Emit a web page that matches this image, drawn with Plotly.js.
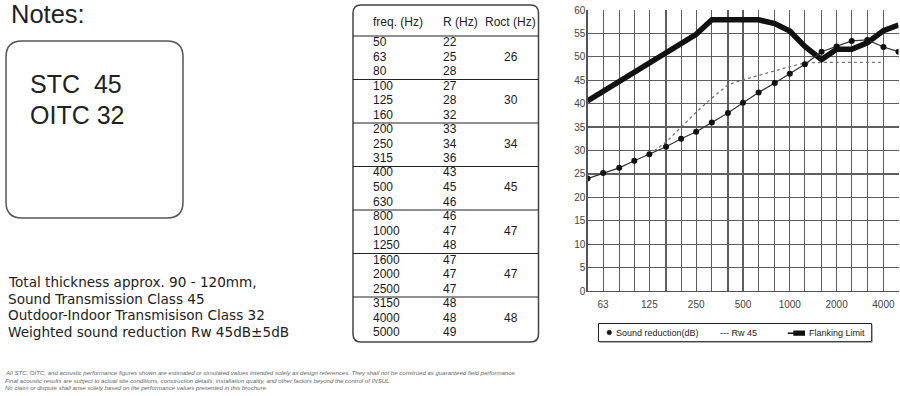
<!DOCTYPE html>
<html>
<head>
<meta charset="utf-8">
<script src="https://cdn.plot.ly/plotly-3.0.1.min.js"></script>
<style>
html,body{margin:0;padding:0;background:#fff;}
#chart{width:900px;height:396px;}
</style>
</head>
<body>
<div id="chart"></div>
<script>
// ---------- data ----------
const freqs = [50,63,80,100,125,160,200,250,315,400,500,630,800,1000,1250,1600,2000,2500,3150,4000,5000];
const soundReduction = [24.0,25.2,26.3,27.8,29.2,30.8,32.5,34.0,36.0,38.0,40.2,42.4,44.4,46.4,48.4,51.1,52.2,53.4,53.6,52.1,51.1];
const rwFreqs = [125,160,200,250,315,400,500,630,800,1000,1250,1600,2000,2500,3150,4000];
const rwValues = [29.2,31.8,35.0,38.2,41.2,44.0,45.1,46.1,47.0,47.9,48.7,48.8,48.8,48.8,48.8,48.8];
const flanking = [40.6,42.6,44.6,46.6,48.6,50.6,52.6,54.8,57.9,57.9,57.9,57.9,57.1,55.5,52.2,49.4,51.6,51.6,53.0,55.6,56.8];
const xTickLabels = ['63','125','250','500','1000','2000','4000'];
const yTicks = [0,5,10,15,20,25,30,35,40,45,50,55,60];

const tableFreq = ['50','63','80','100','125','160','200','250','315','400','500','630','800','1000','1250','1600','2000','2500','3150','4000','5000'];
const tableR = ['22','25','28','27','28','32','33','34','36','43','45','46','46','47','48','47','47','47','48','48','49'];
const tableRoct = ['26','30','34','45','47','47','48'];
const tableHeaders = ['freq. (Hz)','R (Hz)','Roct (Hz)'];

const notesTitle = 'Notes:';
const notesLines = ['STC\u00a0 45','OITC 32'];
const specLines = ['Total thickness approx. 90 - 120mm,','Sound Transmission Class 45','Outdoor-Indoor Transmisison Class 32','Weighted sound reduction Rw 45dB\u00b15dB'];
const disclaimer = [
 'All STC, OITC, and acoustic performance figures shown are estimated or simulated values intended solely as design references. They shall not be construed as guaranteed field performance.',
 'Final acoustic results are subject to actual site conditions, construction details, installation quality, and other factors beyond the control of INSUL.',
 'No claim or dispute shall arise solely based on the performance values presented in this brochure.'
];
const legendNames = ['Sound reduction(dB)','--- Rw 45','Flanking Limit'];

// ---------- helpers ----------
const W = 900, H = 396;
const px = x => x / W;
const py = y => 1 - y / H;
const FONT = 'Liberation Sans, Arial, Helvetica, sans-serif';
const WIDEFONT = 'DejaVu Sans, Verdana, sans-serif';

const annotations = [];
const shapes = [];
function txt(x, y, text, size, opts) {
  opts = opts || {};
  annotations.push(Object.assign({
    xref: 'paper', yref: 'paper', x: px(x), y: py(y), text: text,
    showarrow: false, xanchor: 'left', yanchor: 'middle',
    font: {family: FONT, size: size, color: '#1a1a1a'}, borderpad: 0
  }, opts));
}
function line(x0, y0, x1, y1, color, width) {
  shapes.push({type: 'line', xref: 'paper', yref: 'paper', x0: px(x0), y0: py(y0), x1: px(x1), y1: py(y1),
    line: {color: color, width: width}});
}
function roundRect(x0, y0, x1, y1, r, color, width) {
  const p = (x, y) => px(x) + ',' + py(y);
  const path = 'M' + p(x0 + r, y0) + ' L' + p(x1 - r, y0) + ' Q' + p(x1, y0) + ' ' + p(x1, y0 + r) +
    ' L' + p(x1, y1 - r) + ' Q' + p(x1, y1) + ' ' + p(x1 - r, y1) +
    ' L' + p(x0 + r, y1) + ' Q' + p(x0, y1) + ' ' + p(x0, y1 - r) +
    ' L' + p(x0, y0 + r) + ' Q' + p(x0, y0) + ' ' + p(x0 + r, y0) + ' Z';
  shapes.push({type: 'path', xref: 'paper', yref: 'paper', path: path, line: {color: color, width: width}});
}

// ---------- notes ----------
txt(10, 14, notesTitle, 25, {font: {family: FONT, size: 25.5, color: '#222'}});
roundRect(6, 41, 183, 218, 16, '#555', 1.5);
notesLines.forEach((t, i) => txt(29, 84 + i * 31, t, 25, {font: {family: FONT, size: 25, color: '#222'}}));
specLines.forEach((t, i) => txt(7, 282 + i * 16.7, t, 13, {font: {family: WIDEFONT, size: 13.6, color: '#222'}}));
disclaimer.forEach((t, i) => txt(4, 373 + i * 7.5, '<i>' + t + '</i>', 6, {font: {family: FONT, size: 6.05, color: '#666'}}));

// ---------- table ----------
roundRect(353, 5, 538.5, 342, 8, '#444', 1.5);
const colX = [371.5, 441.5, 484];
tableHeaders.forEach((h, i) => txt(colX[i], 22, h, 12, {font: {family: FONT, size: 12, color: '#222'}}));
line(353, 36, 538.5, 36, '#222', 1);
const rowH = 14.5, groupH = 43.5;
tableFreq.forEach((f, i) => {
  const g = Math.floor(i / 3), k = i % 3;
  const y = 42 + g * groupH + k * rowH;
  txt(colX[0], y, f, 12);
  txt(colX[1], y, tableR[i], 12);
});
tableRoct.forEach((v, g) => {
  txt(511, 42 + g * groupH + rowH, v, 12, {xanchor: 'center'});
  if (g > 0) line(353, 36 + g * groupH, 538.5, 36 + g * groupH, '#222', 1);
});

// ---------- legend (drawn box) ----------
shapes.push({type: 'rect', xref: 'paper', yref: 'paper', x0: px(598.5), y0: py(323.5), x1: px(871.5), y1: py(341.5),
  line: {color: '#222', width: 1}});
line(599.5, 342.2, 872.2, 342.2, '#888', 1);
line(872.2, 324.5, 872.2, 342.2, '#888', 1);
shapes.push({type: 'circle', xref: 'paper', yref: 'paper', x0: px(607), y0: py(330.2), x1: px(611.6), y1: py(334.8),
  fillcolor: '#111', line: {color: '#111', width: 0.5}});
txt(614.5, 332.7, legendNames[0], 9);
txt(719, 332.7, legendNames[1], 9);
line(787.7, 333.2, 794, 333.2, '#111', 1.5);
shapes.push({type: 'rect', xref: 'paper', yref: 'paper', x0: px(793.3), y0: py(330.5), x1: px(805), y1: py(335.8),
  fillcolor: '#111', line: {width: 0}});
txt(807.5, 332.7, legendNames[2], 9);

// ---------- chart ----------
const traces = [
  {x: freqs, y: flanking, type: 'scatter', mode: 'lines', name: legendNames[2],
   line: {color: '#111', width: 5.5}},
  {x: rwFreqs, y: rwValues, type: 'scatter', mode: 'lines', name: legendNames[1],
   line: {color: '#777', width: 1.3, dash: 'dot'}},
  {x: freqs, y: soundReduction, type: 'scatter', mode: 'lines+markers', name: legendNames[0],
   line: {color: '#333', width: 1.2}, marker: {color: '#111', size: 6}}
];

const xTickText = freqs.map(f => xTickLabels.indexOf(String(f)) >= 0 ? String(f) : '');

const layout = {
  width: W, height: H,
  margin: {l: 0, r: 0, t: 0, b: 0, pad: 0},
  paper_bgcolor: '#fff', plot_bgcolor: '#fff',
  showlegend: false,
  xaxis: {
    type: 'log', domain: [px(587.5), px(898.5)],
    range: [Math.log10(50), Math.log10(5000)],
    tickmode: 'array', tickvals: freqs, ticktext: xTickText,
    showgrid: true, gridcolor: '#5e5e5e', gridwidth: 1.2,
    showline: true, linecolor: '#555', linewidth: 1.2,
    zeroline: false, ticks: '', ticklabelstandoff: 4,
    tickfont: {family: FONT, size: 10, color: '#444'}
  },
  yaxis: {
    domain: [py(291), py(10)], range: [0, 60],
    tickmode: 'array', tickvals: yTicks,
    showgrid: true, gridcolor: '#5e5e5e', gridwidth: 1.2,
    showline: true, linecolor: '#555', linewidth: 1.2,
    zeroline: false, ticks: '', ticklabelstandoff: -1,
    tickfont: {family: FONT, size: 10, color: '#444'}
  },
  shapes: shapes,
  annotations: annotations
};

Plotly.newPlot('chart', traces, layout, {staticPlot: true, displayModeBar: false});
</script>
</body>
</html>
